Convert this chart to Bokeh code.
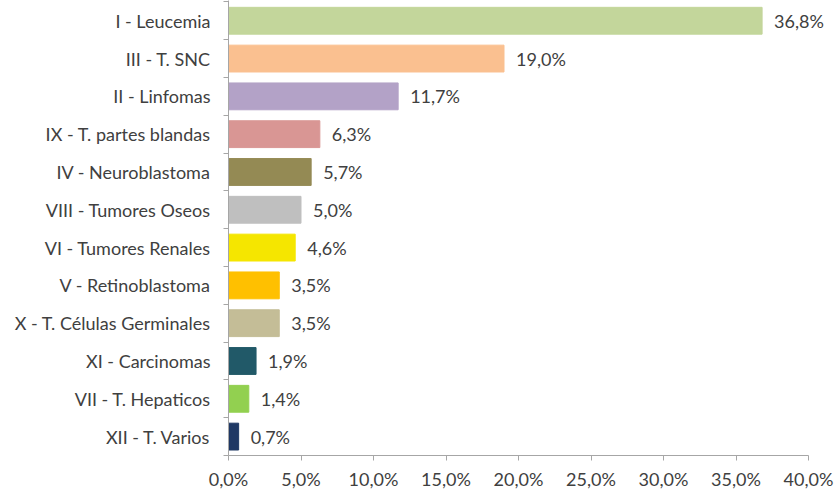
from bokeh.plotting import figure
from bokeh.models import ColumnDataSource, FixedTicker, Range1d, LabelSet
from bokeh.core.properties import value
from bokeh.embed import file_html
from bokeh.resources import INLINE

categories = [
    "I - Leucemia", "III - T. SNC", "II - Linfomas", "IX - T. partes blandas",
    "IV - Neuroblastoma", "VIII - Tumores Oseos", "VI - Tumores Renales",
    "V - Retinoblastoma", "X - T. Células Germinales", "XI - Carcinomas",
    "VII - T. Hepaticos", "XII - T. Varios",
]
values = [36.8, 19.0, 11.7, 6.3, 5.7, 5.0, 4.6, 3.5, 3.5, 1.9, 1.4, 0.7]
x_ticks = [0, 5, 10, 15, 20, 25, 30, 35, 40]
x_tick_labels = ["0,0%", "5,0%", "10,0%", "15,0%", "20,0%", "25,0%", "30,0%", "35,0%", "40,0%"]

colors = ["#c3d69b", "#fac090", "#b3a2c7", "#d99694", "#948a54", "#bfbfbf",
          "#f5e600", "#ffc000", "#c4bd97", "#215968", "#92d050", "#1f3864"]

FONT = "Lato"
TXT = "#404040"
AX = "#a6a6a6"

n = len(categories)
ypos = [n - 1 - i for i in range(n)]
labels = [("%.1f" % v).replace(".", ",") + "%" for v in values]

src = ColumnDataSource(dict(y=ypos, v=values, c=colors, lab=labels))

p = figure(width=838, height=492, output_backend="svg", toolbar_location=None,
           x_range=Range1d(0, 42), y_range=Range1d(-0.5, 11.536),
           min_border_left=228, min_border_right=1, min_border_top=0,
           min_border_bottom=36)
p.outline_line_color = None
p.grid.visible = False
p.background_fill_color = "white"
p.border_fill_color = "white"

p.hbar(y="y", right="v", left=0, height=0.71, color="c", source=src)
p.add_layout(LabelSet(x="v", y="y", text="lab", source=src, x_offset=12,
                      text_align="left", text_baseline="middle",
                      text_font=value(FONT), text_font_size=value("18px"),
                      text_color=TXT))

xa = p.xaxis[0]
xa.ticker = FixedTicker(ticks=x_ticks, minor_ticks=[])
xa.bounds = (0, 40)
xa.major_label_overrides = {t: l for t, l in zip(x_ticks, x_tick_labels)}
xa.axis_line_color = AX
xa.major_tick_line_color = AX
xa.major_tick_out = 5
xa.major_tick_in = 0
xa.minor_tick_line_color = None
xa.major_label_standoff = 7
xa.major_label_text_font = FONT
xa.major_label_text_font_size = "18px"
xa.major_label_text_color = TXT

ya = p.yaxis[0]
ya.ticker = FixedTicker(ticks=ypos, minor_ticks=[k - 0.5 for k in range(n + 1)])
ya.major_label_overrides = {y: c for y, c in zip(ypos, categories)}
ya.axis_line_color = AX
ya.major_tick_line_color = None
ya.major_tick_out = 0
ya.major_tick_in = 0
ya.minor_tick_line_color = AX
ya.minor_tick_out = 5
ya.minor_tick_in = 0
ya.major_label_standoff = 13
ya.major_label_text_font = FONT
ya.major_label_text_font_size = "18px"
ya.major_label_text_color = TXT

open("out.html", "w").write(file_html(p, INLINE))
